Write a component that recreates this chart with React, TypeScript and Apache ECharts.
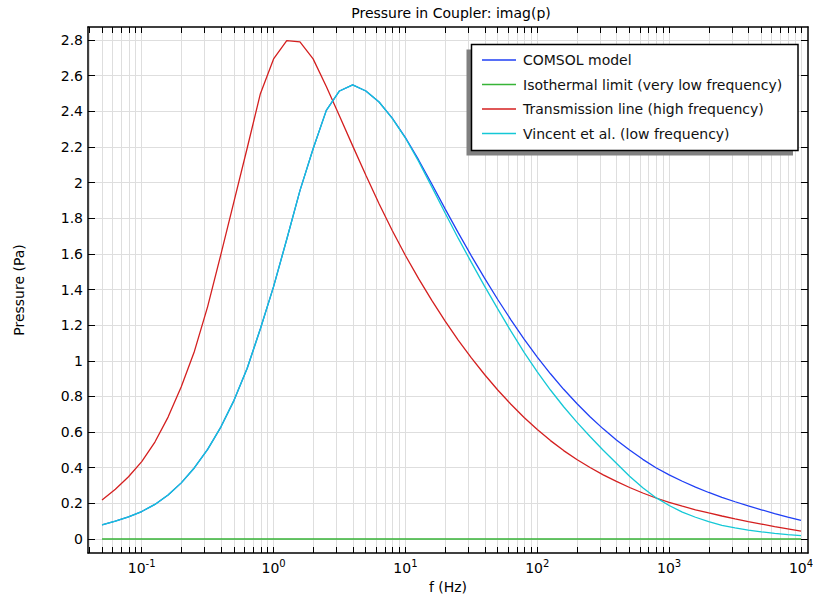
import React, { useEffect, useRef } from 'react';
import * as echarts from 'echarts';

// Frequencies (Hz), 10 points per decade
const frequencies = [
  0.05, 0.0631, 0.0794, 0.1, 0.1259, 0.1585, 0.1995, 0.2512, 0.3162, 0.3981, 0.5012, 0.631, 0.7943,
  1, 1.259, 1.585, 1.995, 2.512, 3.162, 3.981, 5.012, 6.31, 7.943,
  10, 12.59, 15.85, 19.95, 25.12, 31.62, 39.81, 50.12, 63.1, 79.43,
  100, 125.9, 158.5, 199.5, 251.2, 316.2, 398.1, 501.2, 631, 794.3,
  1000, 1259, 1585, 1995, 2512, 3162, 3981, 5012, 6310, 7943,
  10000,
];

const comsolModel = [
  0.079, 0.1, 0.124, 0.154, 0.194, 0.247, 0.315, 0.4, 0.503, 0.628, 0.778, 0.958, 1.18,
  1.416, 1.682, 1.955, 2.19, 2.405, 2.514, 2.548, 2.514, 2.452, 2.362,
  2.252, 2.127, 1.992, 1.854, 1.719, 1.589, 1.464, 1.344, 1.23, 1.122,
  1.021, 0.927, 0.84, 0.76, 0.686, 0.618, 0.556, 0.499, 0.447, 0.4,
  0.36, 0.324, 0.291, 0.261, 0.234, 0.209, 0.186, 0.164, 0.143, 0.123,
  0.104,
];

const isothermalLimit = [
  0, 0, 0, 0, 0, 0, 0, 0, 0, 0, 0, 0, 0,
  0, 0, 0, 0, 0, 0, 0, 0, 0, 0,
  0, 0, 0, 0, 0, 0, 0, 0, 0, 0,
  0, 0, 0, 0, 0, 0, 0, 0, 0, 0,
  0, 0, 0, 0, 0, 0, 0, 0, 0, 0,
  0,
];

const transmissionLine = [
  0.219, 0.279, 0.349, 0.434, 0.544, 0.684, 0.854, 1.054, 1.304, 1.596, 1.894, 2.194, 2.499,
  2.694, 2.796, 2.789, 2.694, 2.539, 2.374, 2.206, 2.041, 1.881, 1.731,
  1.591, 1.461, 1.339, 1.224, 1.116, 1.016, 0.923, 0.836, 0.756, 0.682,
  0.614, 0.552, 0.496, 0.446, 0.401, 0.36, 0.323, 0.289, 0.258, 0.23,
  0.206, 0.184, 0.164, 0.146, 0.129, 0.113, 0.098, 0.084, 0.07, 0.057,
  0.044,
];

const vincent = [
  0.079, 0.1, 0.124, 0.154, 0.194, 0.247, 0.315, 0.4, 0.503, 0.628, 0.778, 0.958, 1.18,
  1.416, 1.682, 1.955, 2.19, 2.405, 2.514, 2.548, 2.514, 2.452, 2.36,
  2.25, 2.119, 1.976, 1.831, 1.688, 1.552, 1.419, 1.291, 1.166, 1.047,
  0.938, 0.836, 0.742, 0.656, 0.575, 0.498, 0.425, 0.352, 0.287, 0.232,
  0.188, 0.151, 0.122, 0.097, 0.077, 0.062, 0.05, 0.04, 0.032, 0.025,
  0.019,
];

const xTickValues = [
  0.04, 0.05, 0.06, 0.07, 0.08, 0.09,
  0.1, 0.2, 0.3, 0.4, 0.5, 0.6, 0.7, 0.8, 0.9,
  1, 2, 3, 4, 5, 6, 7, 8, 9,
  10, 20, 30, 40, 50, 60, 70, 80, 90,
  100, 200, 300, 400, 500, 600, 700, 800, 900,
  1000, 2000, 3000, 4000, 5000, 6000, 7000, 8000, 9000,
  10000,
];
const xLabelValues = [0.1, 1, 10, 100, 1000, 10000];
const yTickValues = [0, 0.2, 0.4, 0.6, 0.8, 1, 1.2, 1.4, 1.6, 1.8, 2, 2.2, 2.4, 2.6, 2.8];

const seriesNames = [
  'COMSOL model',
  'Isothermal limit (very low frequency)',
  'Transmission line (high frequency)',
  'Vincent et al. (low frequency)',
];

const FONT = 'DejaVu Sans';
const X_MIN = 0.03914;
const X_MAX = 11300;
const Y_MIN = -0.0786;
const Y_MAX = 2.873;

export default function App() {
  const ref = useRef<HTMLDivElement>(null);

  useEffect(() => {
    if (!ref.current) return;
    const chart = echarts.init(ref.current, null, { renderer: 'svg' });
    const pair = (vals: number[]) => frequencies.map((f, i) => [f, vals[i]]);

    const axisLineStyle = { color: '#000', width: 1.5 };
    const xTick = {
      show: true,
      inside: true,
      length: 6,
      customValues: xTickValues,
      lineStyle: { color: '#000', width: 1 },
    };
    const yTick = {
      show: true,
      inside: true,
      length: 7,
      customValues: yTickValues,
      lineStyle: { color: '#000', width: 1 },
    };

    const lineSeries = (name: string, vals: number[], color: string) => ({
      name,
      type: 'line',
      data: pair(vals),
      showSymbol: false,
      symbol: 'none',
      lineStyle: { color, width: 1.3 },
      itemStyle: { color },
      emphasis: { disabled: true },
      clip: true,
    });

    chart.setOption({
      animation: false,
      textStyle: { fontFamily: FONT },
      grid: {
        left: 88,
        top: 27,
        right: 5,
        bottom: 43,
        containLabel: false,
        outerBoundsMode: 'none',
      },
      xAxis: [
        {
          type: 'log',
          logBase: 10,
          min: X_MIN,
          max: X_MAX,
          position: 'bottom',
          axisLine: { show: true, onZero: false, lineStyle: axisLineStyle },
          axisTick: xTick,
          minorTick: { show: false },
          minorSplitLine: { show: false },
          splitLine: { show: true, lineStyle: { color: '#dedede', width: 1 } },
          axisLabel: {
            customValues: xLabelValues,
            margin: 5,
            color: '#000',
            formatter: (v: number) => `{b|10}{s|${Math.round(Math.log10(v))}}`,
            rich: {
              b: { fontSize: 14, lineHeight: 20, fontFamily: FONT, color: '#000' },
              s: { fontSize: 10, lineHeight: 10, verticalAlign: 'top', fontFamily: FONT, color: '#000' },
            },
          },
          name: 'f (Hz)',
          nameLocation: 'middle',
          nameGap: 22,
          nameTextStyle: { fontSize: 14, color: '#000', fontFamily: FONT },
        },
        {
          type: 'log',
          logBase: 10,
          min: X_MIN,
          max: X_MAX,
          position: 'top',
          axisLine: { show: true, onZero: false, lineStyle: axisLineStyle },
          axisTick: xTick,
          minorTick: { show: false },
          axisLabel: { show: false },
          splitLine: { show: false },
        },
      ],
      yAxis: [
        {
          type: 'value',
          min: Y_MIN,
          max: Y_MAX,
          position: 'left',
          axisLine: { show: true, onZero: false, lineStyle: axisLineStyle },
          axisTick: yTick,
          splitLine: { show: true, lineStyle: { color: '#dedede', width: 1 } },
          axisLabel: {
            customValues: yTickValues,
            margin: 5,
            fontSize: 14,
            color: '#000',
            fontFamily: FONT,
          },
          name: 'Pressure (Pa)',
          nameLocation: 'middle',
          nameGap: 62,
          nameTextStyle: { fontSize: 14, color: '#000', fontFamily: FONT },
        },
        {
          type: 'value',
          min: Y_MIN,
          max: Y_MAX,
          position: 'right',
          axisLine: { show: true, onZero: false, lineStyle: axisLineStyle },
          axisTick: yTick,
          axisLabel: { show: false },
          splitLine: { show: false },
        },
      ],
      legend: {
        orient: 'vertical',
        left: 482,
        top: 51,
        padding: 0,
        itemGap: 6.5,
        itemWidth: 34,
        itemHeight: 1.5,
        icon: 'rect',
        selectedMode: false,
        z: 20,
        data: seriesNames,
        textStyle: { fontSize: 14, lineHeight: 18, color: '#111', fontFamily: FONT, padding: [0, 0, 0, 2] },
      },
      graphic: [
        {
          type: 'rect',
          z: 10,
          shape: { x: 466.5, y: 49.5, width: 326.5, height: 106 },
          style: { fill: '#808080' },
        },
        {
          type: 'rect',
          z: 11,
          shape: { x: 471.5, y: 44.5, width: 326.5, height: 106 },
          style: { fill: '#fff', stroke: '#000', lineWidth: 1.5 },
        },
        {
          type: 'text',
          z: 11,
          x: 451,
          y: 13,
          style: {
            text: 'Pressure in Coupler: imag(p)',
            fontSize: 14,
            fontFamily: FONT,
            fill: '#000',
            align: 'center',
            verticalAlign: 'middle',
            textAlign: 'center',
            textVerticalAlign: 'middle',
          },
        },
      ],
      series: [
        lineSeries(seriesNames[1], isothermalLimit, '#37b437'),
        lineSeries(seriesNames[2], transmissionLine, '#d41f1f'),
        lineSeries(seriesNames[0], comsolModel, '#1f3ff5'),
        lineSeries(seriesNames[3], vincent, '#14c8d6'),
      ],
    });

    return () => chart.dispose();
  }, []);

  return (
    <div
      ref={ref}
      style={{ position: 'fixed', left: 0, top: 0, width: 813, height: 596, background: '#fff' }}
    />
  );
}
